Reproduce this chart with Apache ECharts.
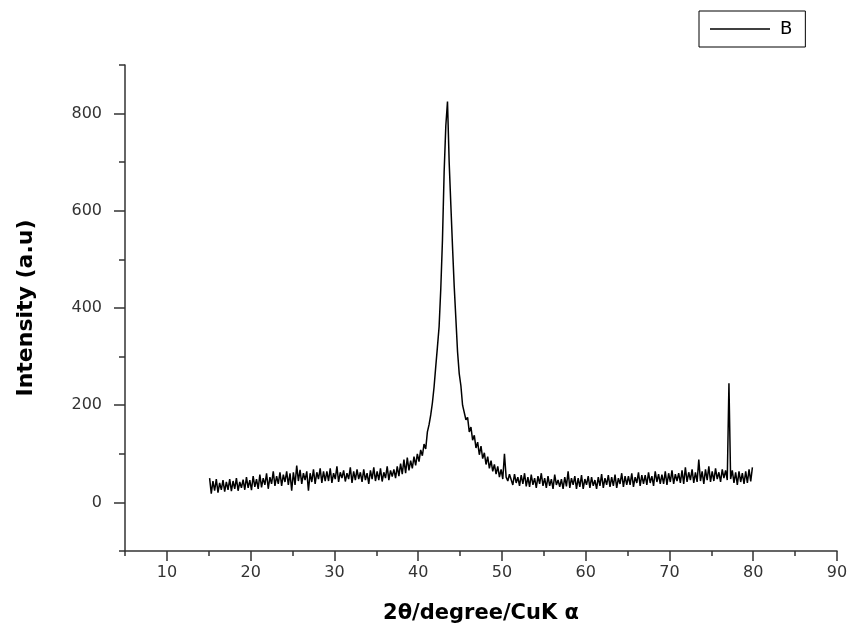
<!DOCTYPE html>
<html>
<head>
<meta charset="utf-8">
<script src="https://cdn.jsdelivr.net/npm/echarts@6/dist/echarts.min.js"></script>
<style>
html,body{margin:0;padding:0;background:#fff;}
#chart{width:851px;height:638px;}
</style>
</head>
<body>
<div id="chart"></div>
<script>
// sampling grid of the scan (2θ, degrees)
const xStart = 15.1;
const xStep = 0.2;
// intensity values, one per sample (rows of 2°)
const intensity = [
  50, 18, 44, 24, 48, 20, 40, 26, 46, 22,
  42, 26, 48, 23, 44, 28, 50, 24, 42, 30,
  47, 26, 52, 30, 46, 25, 54, 32, 48, 28,
  57, 31, 50, 36, 60, 28, 52, 38, 64, 34,
  54, 38, 62, 34, 57, 42, 64, 36, 60, 24,
  62, 36, 76, 44, 67, 38, 60, 46, 64, 24,
  60, 42, 68, 38, 62, 48, 70, 40, 64, 44,
  64, 44, 70, 40, 60, 48, 74, 42, 62, 50,
  66, 43, 60, 48, 72, 40, 64, 46, 68, 48,
  62, 42, 68, 46, 60, 38, 66, 48, 72, 44,
  64, 46, 70, 43, 62, 50, 74, 46, 66, 53,
  68, 50, 74, 54, 80, 58, 88, 60, 92, 66,
  86, 70, 94, 76, 100, 84, 108, 96, 120, 110,
  145, 160, 180, 205, 238, 280, 320, 362, 440, 540,
  680, 775, 825, 700, 612, 526, 445, 378, 310, 265,
  240, 200, 198, 170, 175, 145, 155, 128, 138, 112,
  124, 98, 116, 90, 102, 78, 94, 70, 86, 64,
  78, 58, 74, 52, 68, 48, 100, 52, 44, 58,
  54, 36, 58, 40, 52, 34, 56, 38, 60, 33,
  52, 32, 57, 36, 50, 30, 54, 38, 60, 34,
  50, 30, 54, 34, 48, 28, 57, 36, 46, 32,
  48, 28, 52, 33, 64, 30, 50, 36, 54, 28,
  50, 32, 56, 28, 48, 36, 54, 30, 52, 34,
  46, 28, 52, 34, 58, 30, 50, 36, 56, 32,
  52, 34, 57, 30, 50, 38, 60, 32, 54, 36,
  54, 36, 60, 32, 52, 40, 62, 34, 56, 38,
  56, 36, 62, 40, 54, 34, 64, 42, 58, 38,
  57, 38, 64, 36, 60, 42, 66, 38, 58, 44,
  60, 40, 66, 38, 72, 42, 62, 46, 68, 40,
  62, 42, 88, 44, 64, 38, 68, 46, 74, 42,
  64, 44, 70, 48, 62, 42, 68, 50, 66, 46,
  245, 48, 66, 40, 62, 36, 64, 42, 60, 38,
  64, 40, 68, 43, 72
];
// tick positions and labels
const xMajorTicks = [10, 20, 30, 40, 50, 60, 70, 80, 90];
const xMinorTicks = [5, 15, 25, 35, 45, 55, 65, 75, 85];
const yMajorTicks = [0, 200, 400, 600, 800];
const yMinorTicks = [-100, 100, 300, 500, 700, 900];
const seriesName = 'B';
const xTitle = '2θ/degree/CuK α';
const yTitle = 'Intensity (a.u)';

const data = intensity.map((v, i) => [+(xStart + xStep * i).toFixed(1), v]);

const axisColor = '#333';
const labelFont = { fontFamily: 'DejaVu Sans', fontSize: 16, color: '#333' };

const chart = echarts.init(document.getElementById('chart'), null, { renderer: 'canvas' });
chart.setOption({
  animation: false,
  backgroundColor: '#fff',
  grid: { left: 125, right: 14, top: 65, bottom: 87, outerBoundsMode: 'none' },
  legend: {
    left: 699, top: 11,
    orient: 'horizontal',
    borderColor: '#000', borderWidth: 1,
    padding: [9, 13, 9, 11],
    itemWidth: 60, itemHeight: 1.5, itemGap: 10,
    textStyle: { fontFamily: 'DejaVu Sans', fontSize: 18, color: '#000', padding: [0, 0, 0, 5] },
    data: [{ name: seriesName, icon: 'rect' }]
  },
  xAxis: [
    {
      type: 'value', min: 5, max: 90, position: 'bottom',
      axisLine: { show: true, onZero: false, lineStyle: { color: axisColor, width: 1.5 } },
      axisTick: { show: true, inside: false, length: 10, customValues: xMajorTicks, lineStyle: { color: axisColor, width: 1.5 } },
      axisLabel: Object.assign({ show: true, margin: 14, customValues: xMajorTicks }, labelFont),
      splitLine: { show: false },
      name: xTitle, nameLocation: 'middle', nameGap: 52,
      nameTextStyle: { fontFamily: 'DejaVu Sans', fontWeight: 'bold', fontSize: 21, color: '#000' }
    },
    {
      type: 'value', min: 5, max: 90, position: 'bottom',
      axisLine: { show: false, onZero: false },
      axisTick: { show: true, inside: false, length: 5, customValues: xMinorTicks, lineStyle: { color: axisColor, width: 1.5 } },
      axisLabel: { show: false },
      splitLine: { show: false }
    }
  ],
  yAxis: [
    {
      type: 'value', min: -100, max: 900, position: 'left',
      axisLine: { show: true, onZero: false, lineStyle: { color: axisColor, width: 1.5 } },
      axisTick: { show: true, inside: false, length: 11, customValues: yMajorTicks, lineStyle: { color: axisColor, width: 1.5 } },
      axisLabel: Object.assign({ show: true, margin: 23, customValues: yMajorTicks }, labelFont),
      splitLine: { show: false },
      name: yTitle, nameLocation: 'middle', nameGap: 88, nameRotate: 90,
      nameTextStyle: { fontFamily: 'DejaVu Sans', fontWeight: 'bold', fontSize: 22, color: '#000' }
    },
    {
      type: 'value', min: -100, max: 900, position: 'left',
      axisLine: { show: false, onZero: false },
      axisTick: { show: true, inside: false, length: 6, customValues: yMinorTicks, lineStyle: { color: axisColor, width: 1.5 } },
      axisLabel: { show: false },
      splitLine: { show: false }
    }
  ],
  series: [
    {
      name: seriesName,
      type: 'line',
      xAxisIndex: 0, yAxisIndex: 0,
      data: data,
      symbol: 'none',
      showSymbol: false,
      lineStyle: { color: '#000', width: 1.5 },
      itemStyle: { color: '#000' }
    }
  ]
});
</script>
</body>
</html>
